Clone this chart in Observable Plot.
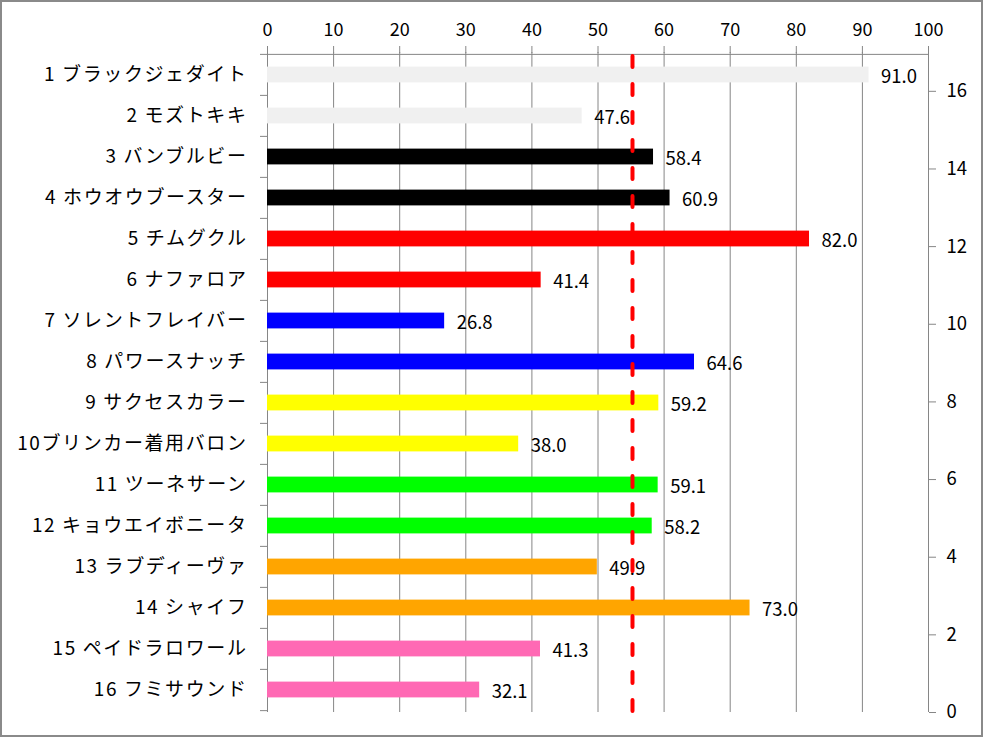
<!DOCTYPE html>
<html>
<head>
<meta charset="utf-8">
<script src="https://cdn.jsdelivr.net/npm/d3@7"></script>
<script src="https://cdn.jsdelivr.net/npm/@observablehq/plot@0.6"></script>
<style>
  body { margin: 0; background: #fff; }
  #wrap { position: relative; width: 983px; height: 737px; outline: 2px solid #8a8a8a; outline-offset: -2px; overflow: hidden; }
  #wrap svg { position: absolute; left: 0; top: 0; }
  #p1 g[aria-label="y-axis tick label"] text { letter-spacing: 1.6px; }
</style>
</head>
<body>
<div id="wrap"><div id="p1"></div><div id="p2"></div></div>
<script>
const names = ["1 ブラックジェダイト", "2 モズトキキ", "3 バンブルビー", "4 ホウオウブースター", "5 チムグクル", "6 ナファロア", "7 ソレントフレイバー", "8 パワースナッチ", "9 サクセスカラー", "10ブリンカー着用バロン", "11 ツーネサーン", "12 キョウエイボニータ", "13 ラブディーヴァ", "14 シャイフ", "15 ペイドラロワール", "16 フミサウンド"];
const values = [91.0, 47.6, 58.4, 60.9, 82.0, 41.4, 26.8, 64.6, 59.2, 38.0, 59.1, 58.2, 49.9, 73.0, 41.3, 32.1];
const colors = ["#f0f0f0", "#f0f0f0", "#000000", "#000000", "#ff0000", "#ff0000", "#0000ff", "#0000ff", "#ffff00", "#ffff00", "#00ff00", "#00ff00", "#ffa500", "#ffa500", "#ff69b4", "#ff69b4"];
const xTicks = [0, 10, 20, 30, 40, 50, 60, 70, 80, 90, 100];
const rightTicks = [0, 2, 4, 6, 8, 10, 12, 14, 16];
const average = d3.mean(values);

const data = names.map((n, i) => ({name: n, value: values[i], color: colors[i]}));

const W = 983, H = 737;
const M = {top: 52, bottom: 25, left: 267, right: 55};
const step = (H - M.top - M.bottom) / names.length;
const font = "'Noto Sans CJK JP', 'Noto Sans', sans-serif";
const grid = "#868686";

const p1 = Plot.plot({
  width: W, height: H,
  marginTop: M.top, marginBottom: M.bottom, marginLeft: M.left, marginRight: M.right,
  style: {fontFamily: font, fontSize: "18px", color: "#000", background: "transparent"},
  x: {domain: [0, 100]},
  y: {domain: names, padding: 0},
  color: {type: "identity"},
  marks: [
    Plot.gridX(xTicks, {stroke: grid, strokeOpacity: 1, strokeWidth: 1}),
    Plot.ruleY([names[0]], {stroke: grid, dy: -step / 2, x1: 0, x2: 100}),
    Plot.axisX(xTicks, {anchor: "top", tickSize: 7, tickPadding: 10, stroke: grid, fontSize: 18, label: null, tickFormat: d => d}),
    Plot.axisY({anchor: "left", tickSize: 0, tickPadding: 20, fontSize: 19, label: null}),
    Plot.axisY({anchor: "left", tickSize: 7, text: null, dy: -step / 2, stroke: grid, label: null}),
    Plot.axisY([names[names.length - 1]], {anchor: "left", tickSize: 7, text: null, dy: step / 2, stroke: grid, label: null}),
    Plot.barX(data, {x: "value", y: "name", fill: "color", insetTop: 12.6, insetBottom: 12.6}),
    Plot.text(data, {x: "value", y: "name", text: d => d.value.toFixed(1), textAnchor: "start", dx: 12, dy: 2, fontSize: 18.5, fill: "#000"})
  ]
});
document.getElementById("p1").appendChild(p1);

const p2 = Plot.plot({
  width: W, height: H,
  marginTop: M.top, marginBottom: M.bottom, marginLeft: M.left, marginRight: M.right,
  style: {fontFamily: font, fontSize: "18px", color: "#000", background: "transparent"},
  x: {domain: [0, 100], axis: null},
  y: {domain: [0, 17]},
  marks: [
    Plot.axisY(rightTicks, {anchor: "right", tickSize: 7, tickPadding: 11, stroke: grid, fontSize: 18.5, label: null, textAnchor: "start"}),
    Plot.ruleX([average], {y1: 16.9, y2: 0, stroke: "#ff0000", strokeWidth: 4, strokeDasharray: "11,17", strokeLinecap: "round"})
  ]
});
document.getElementById("p2").appendChild(p2);
</script>
</body>
</html>
